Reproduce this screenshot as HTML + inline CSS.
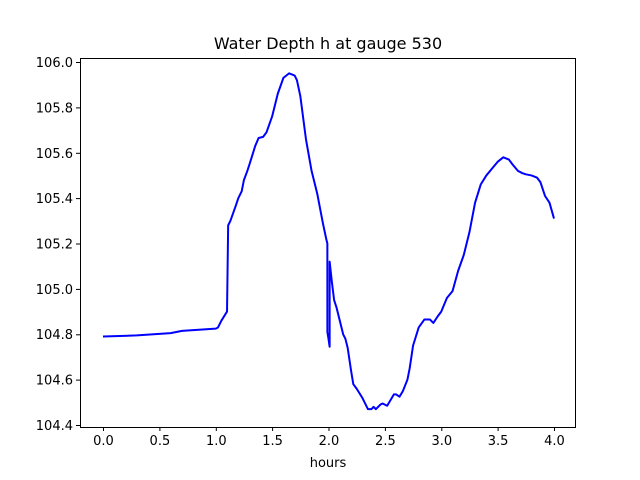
<!DOCTYPE html>
<html><head><meta charset="utf-8"><style>body{margin:0;background:#fff}svg{display:block}text{font-family:"DejaVu Sans","Liberation Sans",sans-serif;font-size:13px;fill:#000}</style></head>
<body>
<svg width="640" height="480" viewBox="0 0 640 480">
<rect width="640" height="480" fill="#fff"/>
<text x="328" y="49" text-anchor="middle" style="font-size:16px">Water Depth h at gauge 530</text>
<g transform="translate(103,62) scale(112.75,226.9)">
<polyline fill="none" stroke="#0000ff" stroke-width="2" vector-effect="non-scaling-stroke" stroke-linejoin="round" points="
0,1.21 0.3,1.205 0.6,1.195 0.7,1.185 1.0,1.175 1.02,1.17 1.05,1.14 1.1,1.1 1.11,0.72 1.13,0.7 1.18,0.63 1.2,0.6 1.23,0.57 1.25,0.52 1.28,0.48 1.3,0.45 1.35,0.37 1.38,0.335 1.42,0.33 1.45,0.31 1.5,0.24 1.55,0.14 1.6,0.07 1.65,0.05 1.7,0.06 1.72,0.08 1.75,0.15 1.8,0.34 1.85,0.48 1.9,0.58 1.95,0.71 1.98,0.78 1.99,0.8 1.99,1.19 2.0,1.22 2.01,1.255 2.01,0.88 2.03,0.97 2.05,1.05 2.07,1.08 2.1,1.14 2.13,1.2 2.15,1.22 2.17,1.26 2.2,1.36 2.22,1.42 2.25,1.44 2.3,1.48 2.35,1.53 2.38,1.53 2.4,1.52 2.42,1.53 2.46,1.51 2.48,1.505 2.52,1.515 2.55,1.49 2.58,1.465 2.6,1.465 2.63,1.475 2.66,1.45 2.7,1.4 2.72,1.35 2.75,1.25 2.8,1.17 2.85,1.135 2.9,1.135 2.93,1.15 2.97,1.12 3.0,1.1 3.05,1.04 3.1,1.01 3.15,0.92 3.2,0.85 3.25,0.75 3.3,0.62 3.35,0.54 3.4,0.5 3.45,0.47 3.5,0.44 3.55,0.42 3.6,0.43 3.63,0.45 3.68,0.48 3.72,0.49 3.75,0.495 3.8,0.5 3.85,0.51 3.88,0.53 3.92,0.59 3.96,0.62 4.0,0.69"/>
</g>
<rect x="80.5" y="58.5" width="495" height="369" fill="none" stroke="#000" stroke-width="1"/>
<g stroke="#000" stroke-width="1">
<line x1="103.5" y1="427" x2="103.5" y2="431"/><line x1="159.9" y1="427" x2="159.9" y2="431"/><line x1="216.3" y1="427" x2="216.3" y2="431"/><line x1="272.6" y1="427" x2="272.6" y2="431"/><line x1="329" y1="427" x2="329" y2="431"/><line x1="385.4" y1="427" x2="385.4" y2="431"/><line x1="441.8" y1="427" x2="441.8" y2="431"/><line x1="498.1" y1="427" x2="498.1" y2="431"/><line x1="554.5" y1="427" x2="554.5" y2="431"/>
<line x1="76" y1="62.5" x2="80" y2="62.5"/><line x1="76" y1="107.9" x2="80" y2="107.9"/><line x1="76" y1="153.3" x2="80" y2="153.3"/><line x1="76" y1="198.6" x2="80" y2="198.6"/><line x1="76" y1="244" x2="80" y2="244"/><line x1="76" y1="289.4" x2="80" y2="289.4"/><line x1="76" y1="334.8" x2="80" y2="334.8"/><line x1="76" y1="380.1" x2="80" y2="380.1"/><line x1="76" y1="425.5" x2="80" y2="425.5"/>
</g>
<g text-anchor="middle">
<text x="103.5" y="445">0.0</text><text x="159.9" y="445">0.5</text><text x="216.3" y="445">1.0</text><text x="272.6" y="445">1.5</text><text x="329" y="445">2.0</text><text x="385.4" y="445">2.5</text><text x="441.8" y="445">3.0</text><text x="498.1" y="445">3.5</text><text x="554.5" y="445">4.0</text>
<text x="328" y="467">hours</text>
</g>
<g text-anchor="end">
<text x="73" y="67">106.0</text><text x="73" y="112.5">105.8</text><text x="73" y="158">105.6</text><text x="73" y="203">105.4</text><text x="73" y="248.5">105.2</text><text x="73" y="294">105.0</text><text x="73" y="339">104.8</text><text x="73" y="384.5">104.6</text><text x="73" y="430">104.4</text>
</g>
</svg>
</body></html>
